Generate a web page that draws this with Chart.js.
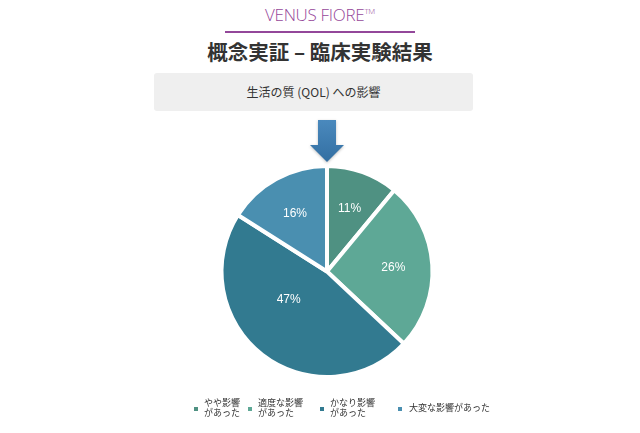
<!DOCTYPE html>
<html>
<head>
<meta charset="utf-8">
<script src="https://cdn.jsdelivr.net/npm/chart.js@4"></script>
<style>
  html, body { margin: 0; padding: 0; background: #fff; }
  body { width: 640px; height: 433px; position: relative; overflow: hidden;
         font-family: "Liberation Sans", "Noto Sans CJK JP", sans-serif; color: #333; }
  #brand { position: absolute; left: 0; width: 640px; top: 3px; text-align: center;
           font-family: "Open Sans", "Liberation Sans", sans-serif; font-weight: 300;
           font-size: 17px; color: #96489a; letter-spacing: -0.3px; }
  #brand sup { font-size: 8px; }
  #rule { position: absolute; left: 225px; width: 190px; top: 31px; height: 2px; background: #93479a; }
  #title { position: absolute; left: 0; width: 640px; top: 36px; text-align: center;
           font-family: "Noto Sans CJK JP", sans-serif; font-weight: 700; font-size: 20.5px; color: #333; }
  #box { position: absolute; left: 154px; top: 73px; width: 319px; height: 38px; background: #efefef;
         border-radius: 3px; text-align: center; line-height: 38px;
         font-family: "Noto Sans CJK JP", sans-serif; font-size: 12px; color: #333; }
  #chart { position: absolute; left: 0; top: 0; }
  .lg { position: absolute; top: 398px; font-family: "Noto Sans CJK JP", sans-serif; font-size: 9px;
        line-height: 10px; color: #333; white-space: pre; }
  .lg i { position: absolute; width: 4px; height: 4px; left: -10px; top: 9px; }
</style>
</head>
<body>
<div id="brand">VENUS FIORE<sup>TM</sup></div>
<div id="rule"></div>
<div id="title">概念実証 – 臨床実験結果</div>
<div id="box">生活の質 (QOL) への影響</div>
<canvas id="chart" width="640" height="433"></canvas>
<div id="legend"></div>
<script>
// slices go clockwise from the top
const categories = ["やや影響\nがあった", "適度な影響\nがあった", "かなり影響\nがあった", "大変な影響があった"];
const shares = [11, 26, 47, 16];
const sliceColors = ["#4f9182", "#5ea896", "#327a90", "#4a8fb0"];
const legendLeft = [204, 258, 330, 409];

// percentage text inside each slice
const sliceLabels = {
  id: "sliceLabels",
  afterDatasetsDraw(chart) {
    const ctx = chart.ctx;
    const arcs = chart.getDatasetMeta(0).data;
    ctx.save();
    ctx.fillStyle = "#fff";
    ctx.font = "12px 'Liberation Sans', sans-serif";
    ctx.textAlign = "center";
    ctx.textBaseline = "middle";
    arcs.forEach((arc, i) => {
      const p = arc.getProps(["x", "y", "startAngle", "endAngle", "outerRadius"], true);
      const mid = (p.startAngle + p.endAngle) / 2;
      const r = p.outerRadius * (shares[i] > 40 ? 0.45 : 0.63);
      const a = shares[i] > 40 ? mid + 0.28 : mid;
      ctx.fillText(shares[i] + "%", p.x + Math.cos(a) * r, p.y + Math.sin(a) * r);
    });
    ctx.restore();
  }
};

// blue arrow pointing down at the pie
const arrow = {
  id: "arrow",
  afterDraw(chart) {
    const ctx = chart.ctx;
    const cx = chart.getDatasetMeta(0).data[0].x;
    const top = chart.chartArea.top;
    const g = ctx.createLinearGradient(0, top - 44, 0, top - 2);
    g.addColorStop(0, "#4a89bd");
    g.addColorStop(1, "#336fa2");
    ctx.save();
    ctx.shadowColor = "rgba(0,0,0,0.25)";
    ctx.shadowBlur = 3;
    ctx.shadowOffsetY = 1;
    ctx.fillStyle = g;
    ctx.beginPath();
    ctx.moveTo(cx - 9, top - 44);
    ctx.lineTo(cx + 9, top - 44);
    ctx.lineTo(cx + 9, top - 19);
    ctx.lineTo(cx + 17, top - 19);
    ctx.lineTo(cx, top - 2);
    ctx.lineTo(cx - 17, top - 19);
    ctx.lineTo(cx - 9, top - 19);
    ctx.closePath();
    ctx.fill();
    ctx.restore();
  }
};

new Chart("chart", {
  type: "pie",
  data: {
    labels: categories,
    datasets: [{
      data: shares,
      backgroundColor: sliceColors,
      borderColor: "#fff",
      borderWidth: 4
    }]
  },
  options: {
    responsive: false,
    animation: false,
    layout: { padding: { left: 218, right: 204, top: 164, bottom: 54 } },
    plugins: {
      legend: { display: false },
      tooltip: { enabled: false }
    }
  },
  plugins: [sliceLabels, arrow]
});

// legend built from the same arrays
const legend = document.getElementById("legend");
categories.forEach((name, i) => {
  const d = document.createElement("div");
  d.className = "lg";
  d.style.left = legendLeft[i] + "px";
  if (!name.includes("\n")) d.style.top = "403px";
  const mark = document.createElement("i");
  mark.style.background = sliceColors[i];
  if (!name.includes("\n")) { mark.style.top = "4px"; mark.style.left = "-11px"; }
  d.appendChild(mark);
  d.appendChild(document.createTextNode(name));
  legend.appendChild(d);
});
</script>
</body>
</html>
